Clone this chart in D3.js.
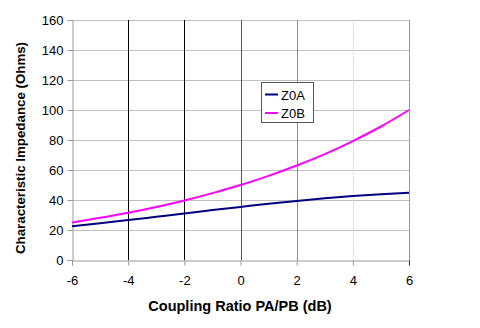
<!DOCTYPE html>
<html>
<head>
<meta charset="utf-8">
<script src="https://cdn.jsdelivr.net/npm/d3@7/dist/d3.min.js"></script>
<style>
  html, body { margin: 0; padding: 0; background: #fff; }
  svg { display: block; font-family: Arial, "Liberation Sans", sans-serif; }
</style>
</head>
<body>
<svg id="chart" width="480" height="328"></svg>
<script>
// Coupling ratio (dB) and the two characteristic impedances (Ohms)
const ratioDb = [-6, -5, -4, -3, -2, -1, 0, 1, 2, 3, 4, 5, 6];
const z0a = [22.5, 24.5, 26.6, 28.8, 31.0, 33.3, 35.4, 37.5, 39.4, 41.1, 42.6, 43.8, 44.8];
const z0b = [25.0, 28.1, 31.5, 35.4, 39.7, 44.6, 50.0, 56.1, 63.0, 70.6, 79.3, 89.0, 100.0];
const xTicks = [-6, -4, -2, 0, 2, 4, 6];
const yTicks = [0, 20, 40, 60, 80, 100, 120, 140, 160];
const seriesNames = ["Z0A", "Z0B"];
const seriesColors = ["#000080", "#ff00ff"];

const svg = d3.select("#chart");
const x = d3.scaleLinear().domain([-6, 6]).range([72, 409]);
const y = d3.scaleLinear().domain([0, 160]).range([260, 20]);

// horizontal gridlines
svg.append("g").selectAll("line").data(yTicks.filter(d => d > 0)).join("line")
  .attr("x1", x(-6)).attr("x2", x(6))
  .attr("y1", d => y(d) + 0.5).attr("y2", d => y(d) + 0.5)
  .attr("stroke", "#c0c0c0").attr("stroke-width", 1);

// vertical gridlines, each drawn in its own shade
const vStyle = {
  "-4": { c: "#000000", dash: null },
  "-2": { c: "#000000", dash: null },
  "0": { c: "#555555", dash: null },
  "2": { c: "#8c8c8c", dash: null },
  "4": { c: "#d8d8d8", dash: "2,1" },
  "6": { c: "#999999", dash: null }
};
svg.append("g").selectAll("line").data(xTicks.filter(d => d > -6)).join("line")
  .attr("x1", d => Math.round(x(d)) + 0.5).attr("x2", d => Math.round(x(d)) + 0.5)
  .attr("y1", y(160)).attr("y2", y(0))
  .attr("stroke", d => vStyle[d].c)
  .attr("stroke-dasharray", d => vStyle[d].dash)
  .attr("stroke-width", 1);

// axes (plain hyphen for negative labels)
const fmt = d => String(d);
const yAxis = d3.axisLeft(y).tickValues(yTicks).tickFormat(fmt).tickSize(5).tickPadding(4);
const xAxis = d3.axisBottom(x).tickValues(xTicks).tickFormat(fmt).tickSize(5).tickPadding(10);

const gy = svg.append("g").attr("transform", "translate(72.5,0)").call(yAxis);
const gx = svg.append("g").attr("transform", "translate(0,260.5)").call(xAxis);
[gx, gy].forEach(g => {
  g.select(".domain").attr("stroke", "#999999");
  g.selectAll(".tick line").attr("stroke", "#999999");
  g.selectAll(".tick text").attr("fill", "#000").attr("font-size", 13)
    .attr("font-family", "Arial, 'Liberation Sans', sans-serif");
});
gx.selectAll(".tick line").attr("stroke", (d) => d === 6 ? "#333" : "#999999");

// series lines
const line = d3.line().x((d, i) => x(ratioDb[i])).y(d => y(d)).curve(d3.curveMonotoneX);
[z0a, z0b].forEach((vals, k) => {
  svg.append("path").datum(vals)
    .attr("d", line)
    .attr("fill", "none")
    .attr("stroke", seriesColors[k])
    .attr("stroke-width", 2);
});

// axis titles
svg.append("text")
  .attr("x", 240).attr("y", 311)
  .attr("text-anchor", "middle")
  .attr("font-size", 14.5).attr("font-weight", "bold")
  .text("Coupling Ratio PA/PB (dB)");
svg.append("text")
  .attr("transform", "translate(25,148) rotate(-90)")
  .attr("text-anchor", "middle")
  .attr("font-size", 13.3).attr("font-weight", "bold")
  .text("Characteristic Impedance (Ohms)");

// legend
const lg = svg.append("g").attr("transform", "translate(261,82)");
lg.append("rect").attr("x", 0.5).attr("y", 0.5).attr("width", 52).attr("height", 40)
  .attr("fill", "#fff").attr("stroke", "#555");
seriesNames.forEach((name, i) => {
  const cy = 12.5 + i * 18.5;
  lg.append("line").attr("x1", 4).attr("x2", 17).attr("y1", cy).attr("y2", cy)
    .attr("stroke", seriesColors[i]).attr("stroke-width", 2);
  lg.append("text").attr("x", 20).attr("y", cy + 5)
    .attr("font-size", 13).text(name);
});
</script>
</body>
</html>
